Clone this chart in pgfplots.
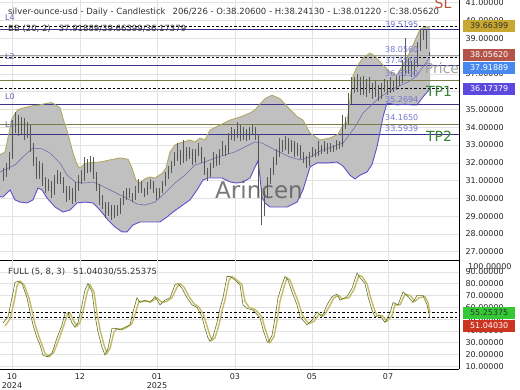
\documentclass[border=0pt]{standalone}
\usepackage{fontspec}
\setmainfont{DejaVu Sans}
\usepackage{pgfplots}
\pgfplotsset{compat=1.18}
\usepackage{pgfplotstable}

\definecolor{navyline}{RGB}{58,52,140}
\definecolor{oliveline}{RGB}{120,125,72}
\definecolor{bandfill}{RGB}{192,192,192}
\definecolor{bandup}{RGB}{178,168,98}
\definecolor{bandlow}{RGB}{92,82,205}
\definecolor{bandmid}{RGB}{112,112,172}
\definecolor{lvl}{RGB}{118,118,210}
\definecolor{gridc}{RGB}{226,226,226}
\definecolor{candbody}{RGB}{80,84,78}
\definecolor{candwick}{RGB}{90,90,90}
\definecolor{stoD}{RGB}{196,186,104}
\definecolor{stoK}{RGB}{96,118,40}
\definecolor{pricegray}{RGB}{160,160,160}
\definecolor{tpgreen}{RGB}{52,130,52}
\definecolor{slred}{RGB}{190,80,60}
\definecolor{boxgold}{RGB}{200,168,48}
\definecolor{boxbrown}{RGB}{178,84,74}
\definecolor{boxblue}{RGB}{70,136,238}
\definecolor{boxpurple}{RGB}{92,72,222}
\definecolor{boxgreen}{RGB}{52,200,52}
\definecolor{boxred}{RGB}{204,52,34}
\definecolor{lname}{RGB}{100,100,170}

% candles: x (pixel index), open, high, low, close
\pgfplotstableread{
x o h l c
3 31.2 31.7 31.0 31.4
6 31.4 32.0 31.2 31.8
9 31.8 32.6 31.6 32.3
12 32.3 34.4 32.2 34.0
15 34.0 34.85 33.7 34.5
18 34.5 34.7 33.5 33.8
21 33.8 34.6 33.6 34.3
24 34.3 34.5 33.3 33.6
27 33.6 34.3 33.4 34.0
30 34.0 34.1 32.6 32.8
33 32.8 33.1 31.8 32.0
36 32.0 32.3 31.1 31.3
39 31.3 32.1 31.1 31.8
42 31.8 32.0 30.7 30.9
45 30.9 31.2 30.3 30.6
48 30.6 31.1 30.4 30.8
51 30.8 31.0 30.0 30.3
54 30.3 31.3 30.2 31.0
57 31.0 31.6 30.8 31.3
60 31.3 31.5 30.8 31.0
63 31.0 31.2 30.3 30.5
66 30.5 30.7 29.8 30.1
69 30.1 30.7 29.9 30.4
72 30.4 30.6 29.7 29.9
75 29.9 30.9 29.8 30.6
78 30.6 31.3 30.4 31.0
81 31.0 31.6 30.8 31.2
84 31.2 32.3 31.0 32.0
87 32.0 32.2 31.4 31.6
90 31.6 32.4 31.5 32.2
93 32.2 32.3 31.1 31.3
96 31.3 31.5 30.4 30.6
99 30.6 30.8 29.6 29.8
102 29.8 30.2 29.4 29.6
105 29.6 29.8 28.9 29.2
108 29.2 29.8 29.0 29.5
111 29.5 29.6 28.8 29.0
114 29.0 29.6 28.9 29.4
117 29.4 29.6 29.0 29.2
120 29.2 30.0 29.1 29.8
123 29.8 30.4 29.6 30.1
126 30.1 30.6 29.9 30.4
129 30.4 30.6 30.0 30.2
132 30.2 30.3 29.8 30.0
135 30.0 30.7 29.9 30.4
138 30.4 31.1 30.3 30.8
141 30.8 31.0 30.3 30.5
144 30.5 30.6 30.1 30.3
147 30.3 30.9 30.2 30.7
150 30.7 31.1 30.5 30.9
153 30.9 31.0 30.3 30.5
156 30.5 30.6 29.9 30.1
159 30.1 30.6 30.0 30.4
162 30.4 31.0 30.3 30.8
165 30.8 31.5 30.7 31.3
168 31.3 31.8 31.1 31.6
171 31.6 32.1 31.4 31.9
174 31.9 32.6 31.8 32.3
177 32.3 33.1 32.1 32.5
180 32.5 32.7 31.9 32.2
183 32.2 33.3 32.0 32.7
186 32.7 32.9 32.1 32.3
189 32.3 32.9 32.2 32.6
192 32.6 32.8 31.9 32.1
195 32.1 32.8 32.0 32.6
198 32.6 33.1 32.4 32.8
201 32.8 32.9 32.0 32.2
204 32.2 32.3 31.3 31.5
207 31.5 31.7 31.0 31.3
210 31.3 32.0 31.2 31.8
213 31.8 32.6 31.7 32.3
216 32.3 32.5 31.8 32.0
219 32.0 32.8 31.9 32.6
222 32.6 33.2 32.4 32.9
225 32.9 33.0 32.4 32.6
228 32.6 33.7 32.5 33.5
231 33.5 34.0 33.3 33.8
234 33.8 33.9 33.2 33.5
237 33.5 34.3 33.4 34.0
240 34.0 34.1 33.2 33.4
243 33.4 34.0 33.3 33.8
246 33.8 33.9 33.2 33.4
249 33.4 34.0 33.3 33.8
252 33.8 34.2 33.6 33.9
255 33.9 34.0 33.3 33.5
258 33.5 33.6 30.1 30.3
261 30.3 30.6 28.5 29.4
264 29.4 30.4 29.0 30.2
267 30.2 31.2 30.0 31.0
270 31.0 31.7 30.8 31.5
273 31.5 32.3 31.3 32.1
276 32.1 32.8 31.9 32.5
279 32.5 33.4 32.3 33.0
282 33.0 33.3 32.6 32.8
285 32.8 33.5 32.7 33.2
288 33.2 33.4 32.5 32.7
291 32.7 33.3 32.6 33.1
294 33.1 33.2 32.3 32.5
297 32.5 33.1 32.4 32.9
300 32.9 33.0 32.2 32.4
303 32.4 32.6 32.0 32.2
306 32.2 32.4 31.7 31.9
309 31.9 32.6 31.8 32.4
312 32.4 32.9 32.3 32.7
315 32.7 32.8 32.3 32.5
318 32.5 33.2 32.4 32.9
321 32.9 33.0 32.5 32.7
324 32.7 33.2 32.6 33.0
327 33.0 33.1 32.5 32.7
330 32.7 33.1 32.6 32.9
333 32.9 33.0 32.6 32.8
336 32.8 33.3 32.7 33.1
339 33.1 33.2 32.8 33.0
342 33.0 34.7 32.9 34.2
345 34.2 34.6 33.9 34.3
348 34.3 35.9 34.2 35.5
351 35.5 36.8 35.3 36.4
354 36.4 36.8 35.9 36.2
357 36.2 37.0 36.0 36.6
360 36.6 36.8 35.8 36.0
363 36.0 36.9 35.8 36.5
366 36.5 36.7 35.7 36.1
369 36.1 36.8 35.9 36.4
372 36.4 36.5 35.6 35.9
375 35.9 36.6 35.7 36.3
378 36.3 36.4 35.5 35.8
381 35.8 36.5 35.6 36.2
384 36.2 36.7 36.0 36.4
387 36.4 36.6 35.8 36.0
390 36.0 36.8 35.9 36.5
393 36.5 36.6 36.0 36.3
396 36.3 36.9 36.1 36.7
399 36.7 36.9 36.3 36.6
402 36.6 37.8 36.5 37.5
405 37.5 39.0 37.0 37.2
408 37.2 37.9 37.0 37.6
411 37.6 37.7 36.8 37.0
414 37.0 37.8 36.9 37.5
417 37.5 38.8 37.4 38.5
420 38.5 39.5195 38.3 39.2
423 39.2 39.5 38.9 39.4
426 39.4 39.45 38.4 38.6
429 38.2060 38.2413 38.0122 38.0562
}\candles

\pgfplotstableread{
x y
0 32.45
5 32.6
8 33.4
12 34.5
18 35.0
25 35.1
32 35.2
40 35.25
47 35.35
52 35.38
57 35.2
60 35.1
64 34.3
67 33.8
70 33.2
73 32.55
77 31.9
80 31.7
85 31.95
90 32.0
100 32.04
110 32.16
120 32.27
128 32.2
132 31.7
136 31.0
140 30.86
145 31.1
150 31.2
155 31.14
162 31.4
166 31.7
170 32.6
175 33.0
180 33.11
190 33.28
195 33.17
200 33.39
205 33.28
210 33.84
220 34.12
230 34.40
240 34.57
250 34.80
255 34.97
260 35.3
265 35.6
272 35.8
280 35.6
290 35.0
297 34.6
303 34.4
310 33.67
320 33.28
330 33.39
338 33.6
343 34.1
347 34.3
350 35.5
353 36.9
358 37.5
363 37.89
370 38.17
375 38.0
380 37.67
390 37.10
397 36.94
403 37.50
408 38.0
413 38.62
420 39.50
425 39.62
430 39.664
}\bbupper

\pgfplotstableread{
x y
0 30.1
3 30.07
10 30.47
15 29.91
20 29.79
27 29.74
33 29.91
38 30.58
42 30.47
47 30.02
55 29.51
63 29.23
70 29.34
77 29.74
85 29.79
93 29.74
100 29.34
108 28.78
115 28.39
122 28.11
127 28.11
133 28.50
140 28.67
150 28.67
160 28.67
167 28.95
173 29.23
180 29.51
190 29.91
197 30.47
203 31.03
208 31.14
215 31.14
222 31.14
230 30.92
237 30.86
243 30.92
250 31.14
255 31.76
258 32.10
260 31.2
262 30.07
265 29.74
270 29.51
280 29.51
287 29.51
297 29.79
303 30.47
310 31.76
317 31.99
327 31.99
337 32.04
343 31.82
350 31.3
355 31.09
360 31.3
367 31.48
372 31.9
377 32.89
383 34.57
387 35.36
397 35.25
405 35.30
412 35.25
417 35.25
423 35.7
430 36.174
}\bblower

% band outline: upper band left to right, then lower band right to left
\pgfplotstableread{
x y
0 32.45
5 32.6
8 33.4
12 34.5
18 35.0
25 35.1
32 35.2
40 35.25
47 35.35
52 35.38
57 35.2
60 35.1
64 34.3
67 33.8
70 33.2
73 32.55
77 31.9
80 31.7
85 31.95
90 32.0
100 32.04
110 32.16
120 32.27
128 32.2
132 31.7
136 31.0
140 30.86
145 31.1
150 31.2
155 31.14
162 31.4
166 31.7
170 32.6
175 33.0
180 33.11
190 33.28
195 33.17
200 33.39
205 33.28
210 33.84
220 34.12
230 34.40
240 34.57
250 34.80
255 34.97
260 35.3
265 35.6
272 35.8
280 35.6
290 35.0
297 34.6
303 34.4
310 33.67
320 33.28
330 33.39
338 33.6
343 34.1
347 34.3
350 35.5
353 36.9
358 37.5
363 37.89
370 38.17
375 38.0
380 37.67
390 37.10
397 36.94
403 37.50
408 38.0
413 38.62
420 39.50
425 39.62
430 39.664
430 36.174
423 35.7
417 35.25
412 35.25
405 35.30
397 35.25
387 35.36
383 34.57
377 32.89
372 31.9
367 31.48
360 31.3
355 31.09
350 31.3
343 31.82
337 32.04
327 31.99
317 31.99
310 31.76
303 30.47
297 29.79
287 29.51
280 29.51
270 29.51
265 29.74
262 30.07
260 31.2
258 32.10
255 31.76
250 31.14
243 30.92
237 30.86
230 30.92
222 31.14
215 31.14
208 31.14
203 31.03
197 30.47
190 29.91
180 29.51
173 29.23
167 28.95
160 28.67
150 28.67
140 28.67
133 28.50
127 28.11
122 28.11
115 28.39
108 28.78
100 29.34
93 29.74
85 29.79
77 29.74
70 29.34
63 29.23
55 29.51
47 30.02
42 30.47
38 30.58
33 29.91
27 29.74
20 29.79
15 29.91
10 30.47
3 30.07
0 30.1
}\bbband

\pgfplotstableread{
x y
0 31.48
15 31.88
25 32.44
33 32.83
42 32.78
50 32.55
60 31.99
67 31.31
75 30.92
85 30.86
93 30.92
100 30.75
110 30.47
120 30.19
130 29.91
137 29.68
145 29.62
155 29.79
165 30.30
175 30.86
185 31.31
195 31.88
205 32.04
215 32.27
225 32.44
235 32.61
245 32.89
255 33.17
262 33.11
275 32.72
290 32.32
300 32.16
310 32.32
320 32.65
330 32.85
343 33.11
355 34.0
363 34.80
380 35.70
397 36.26
410 36.6
417 36.9
423 37.4
430 37.919
}\bbmiddle

\pgfplotstableread{
x y
3 46.6
8 52
12 68
15 81
18 82
22 80
27 68
30 56
33 45
37 34
40 28
43 19.5
47 18
52 21
57 34
62 45
65 55
68 55
72 46.6
75 43
78 47
82 62
85 74.6
88 80
92 73
95 53
98 39
102 26
105 19.5
108 25
112 42
115 42
120 41
125 43
130 45
133 56
137 68
140 64
145 66
150 64
155 69
160 62
165 66
170 68
175 79
178 80
182 76
187 68
192 62
197 60
202 52
205 42
208 34
210 31
213 35
217 47
220 59
223 68
227 86
230 86
235 83
240 79
243 62
247 59
253 57.6
258 53
260 51
263 41
267 31
268 30
272 36
275 51
278 68
282 79
285 86
288 83
292 73
297 62
300 52
303 49
307 45
312 49
317 56
322 52
327 62
332 69
337 71
340 66
347 69
352 76
357 89
360 85
365 80
368 69
372 57.6
375 52
380 53
385 47
390 55
393 64
398 62
403 73
408 69
413 64
417 70
423 70
427 62
430 51.0403
}\stochK

\pgfplotstableread{
x y
5 44
10 50
14 64
17 78
20 82
24 79
29 68
32 57
35 46
39 35
42 28
45 21
49 18
54 22
59 33
64 45
67 53
70 55
74 48
77 44
80 47
84 60
87 72
90 79
94 73
97 55
100 41
104 28
107 21
110 25
114 39
117 42
122 41
127 43
132 46
135 54
139 65
142 65
147 65
152 65
157 68
162 64
167 65
172 68
177 77
180 80
184 77
189 69
194 63
199 60
204 53
207 44
210 36
212 32
215 34
219 45
222 57
225 66
229 83
232 86
237 83
242 79
245 65
249 60
255 58
260 54
262 51
265 42
269 32
270 30
274 35
277 48
280 65
284 77
287 85
290 83
294 74
299 63
302 54
305 50
309 46
314 48
319 54
324 53
329 60
334 68
339 70
342 67
349 68
354 75
359 87
362 86
367 80
370 70
374 59
377 53
382 53
387 48
392 53
395 62
400 62
405 71
410 70
415 65
419 68
425 69
428 64
430 55.25375
}\stochD

\newcommand{\tickfont}{\fontsize{8}{9}\selectfont}

\begin{document}
\begin{tikzpicture}

% ---------------- price panel ----------------
\begin{axis}[
  at={(0pt,130pt)}, anchor=south west,
  scale only axis, width=459pt, height=260pt,
  xmin=0, xmax=459, ymin=26.531, ymax=41.154,
  axis x line*=bottom, axis y line*=right,
  axis line style={black, line width=0.6pt},
  major tick length=0pt,
  xtick={12,80,157,235,312,388}, xticklabels={},
  ytick={27,28,...,41},
  grid=major, major grid style={gridc, line width=0.5pt},
  /pgf/number format/assume math mode=true,
  yticklabel style={font=\tickfont, color=black!85, xshift=3pt,
     /pgf/number format/.cd, fixed, fixed zerofill, precision=5, 1000 sep={}},
]
\addplot[fill=bandfill, draw=none, forget plot] table {\bbband};

% level lines
\addplot[navyline, line width=0.9pt, forget plot] coordinates {(0,39.5195) (459,39.5195)};
\addplot[navyline, line width=0.9pt, forget plot] coordinates {(0,37.4515) (459,37.4515)};
\addplot[navyline, line width=0.9pt, forget plot] coordinates {(0,35.2694) (459,35.2694)};
\addplot[navyline, line width=0.9pt, forget plot] coordinates {(0,33.5939) (459,33.5939)};
\addplot[oliveline, line width=0.9pt, forget plot] coordinates {(0,36.6230) (459,36.6230)};
\addplot[oliveline, line width=0.9pt, forget plot] coordinates {(0,34.1650) (459,34.1650)};
\addplot[pricegray, line width=0.9pt, forget plot] coordinates {(0,38.0562) (459,38.0562)};
\addplot[black, line width=0.7pt, dash pattern=on 2.5pt off 2pt, forget plot] coordinates {(0,39.66399) (459,39.66399)};
\addplot[black, line width=0.7pt, dash pattern=on 2.5pt off 2pt, forget plot] coordinates {(0,37.91889) (459,37.91889)};
\addplot[black, line width=0.7pt, dash pattern=on 2.5pt off 2pt, forget plot] coordinates {(0,36.17379) (459,36.17379)};

% Bollinger lines
\addplot[bandup, line width=0.9pt, forget plot] table {\bbupper};
\addplot[bandlow, line width=0.9pt, forget plot] table {\bblower};
\addplot[bandmid, line width=0.6pt, forget plot] table {\bbmiddle};

% candles: wicks (low to high) and bodies (open to close)
\addplot[candwick, line width=0.5pt, -, forget plot,
  quiver={u=0, v=\thisrow{h}-\thisrow{l}}]
  table[x=x, y=l] {\candles};
\addplot[candbody, line width=1.0pt, -, forget plot,
  quiver={u=0, v=\thisrow{c}-\thisrow{o}}]
  table[x=x, y=o] {\candles};
\end{axis}

% ---------------- stochastic panel ----------------
\begin{axis}[
  at={(0pt,21pt)}, anchor=south west,
  scale only axis, width=459pt, height=109pt,
  xmin=0, xmax=459, ymin=7.63, ymax=100,
  axis x line*=bottom, axis y line*=right,
  axis line style={black, line width=0.6pt},
  major tick length=0pt,
  xtick={12,80,157,235,312,388},
  xticklabels={{10\\2024},{12},{01\\2025},{03},{05},{07}},
  xticklabel style={font=\tickfont, align=center, color=black!85, yshift=-1pt},
  ytick={10,20,...,90},
  grid=major, major grid style={gridc, line width=0.5pt},
  /pgf/number format/assume math mode=true,
  yticklabel style={font=\tickfont, color=black!85, xshift=3pt,
     /pgf/number format/.cd, fixed, fixed zerofill, precision=5, 1000 sep={}},
]
\addplot[black, line width=0.7pt, dash pattern=on 2.5pt off 2pt, forget plot] coordinates {(0,55.25375) (459,55.25375)};
\addplot[black, line width=0.7pt, dash pattern=on 2.5pt off 2pt, forget plot] coordinates {(0,51.0403) (459,51.0403)};
\addplot[stoD, line width=1.4pt, forget plot] table {\stochD};
\addplot[stoK, line width=0.6pt, forget plot] table {\stochK};
\end{axis}

% ---------------- texts ----------------
\node[anchor=west, font=\fontsize{8.5}{10}\selectfont, text=black!80, inner sep=0pt] at (8pt,378pt)
  {silver-ounce-usd - Daily - Candlestick\hspace{7pt}206/226 - O:38.20600 - H:38.24130 - L:38.01220 - C:38.05620};
\node[anchor=west, font=\fontsize{8.5}{10}\selectfont, text=black!80, inner sep=0pt] at (8pt,361pt)
  {BB (20, 2)\hspace{8pt}37.91889/39.66399/36.17379};
\node[anchor=west, font=\fontsize{8.5}{10}\selectfont, text=black!80, inner sep=0pt] at (8pt,118pt)
  {FULL (5, 8, 3)\hspace{8pt}51.04030/55.25375};

\begin{scope}[every node/.style={anchor=west, font=\fontsize{8}{9}\selectfont, text=lname, inner sep=0pt}]
\node at (5pt,372pt) {L4};
\node at (5pt,333pt) {L2};
\node at (5pt,293pt) {L0};
\node at (5pt,265pt) {L1};
\end{scope}

\begin{scope}[every node/.style={anchor=west, font=\fontsize{8}{9}\selectfont, text=lvl, inner sep=0pt}]
\node at (385pt,365pt) {39.5195};
\node at (385pt,340pt) {38.0560};
\node at (385pt,329pt) {37.4515};
\node at (385pt,316pt) {36.6230};
\node at (385pt,290pt) {35.2694};
\node at (385pt,272pt) {34.1650};
\node at (385pt,261pt) {33.5939};
\end{scope}

\node[font=\fontsize{14}{14}\selectfont, text=slred] at (443pt,387pt) {SL};
\node[font=\fontsize{14}{14}\selectfont, text=pricegray] at (442pt,322pt) {Price};
\node[font=\fontsize{14}{14}\selectfont, text=tpgreen] at (439pt,299pt) {TP1};
\node[font=\fontsize{14}{14}\selectfont, text=tpgreen] at (439pt,254pt) {TP2};
\node[font=\fontsize{23}{23}\selectfont, text=black!65, opacity=0.8] at (259pt,200pt) {Arincen};

\begin{scope}[every node/.style={anchor=west, font=\fontsize{8}{9}\selectfont, inner sep=1.5pt, minimum width=52pt, minimum height=12pt}]
\node[fill=boxgold, text=black!80] at (463pt,364pt) {39.66399};
\node[fill=boxbrown, text=white] at (463pt,335pt) {38.05620};
\node[fill=boxblue, text=white] at (463pt,322pt) {37.91889};
\node[fill=boxpurple, text=white] at (463pt,301pt) {36.17379};
\node[fill=boxgreen, text=black!80] at (463pt,77pt) {55.25375};
\node[fill=boxred, text=white] at (463pt,64pt) {51.04030};
\end{scope}
\node[anchor=west, font=\fontsize{8}{9}\selectfont, text=black!85, inner sep=0pt] at (468pt,123pt) {100.00000};

\pgfresetboundingbox
\path[use as bounding box] (0pt,0pt) rectangle (520pt,390pt);
\end{tikzpicture}
\end{document}
